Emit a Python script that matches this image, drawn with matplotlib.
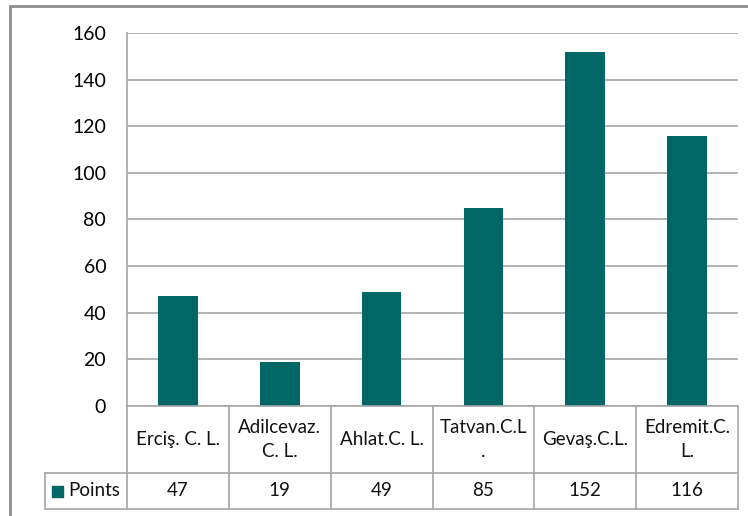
import numpy as np
import matplotlib
matplotlib.use("Agg")
import matplotlib.pyplot as plt
from matplotlib.patches import Rectangle

plt.rcParams['font.family'] = ['Lato', 'DejaVu Sans']

# Data
categories = ["Erciş. C. L.", "Adilcevaz.\nC. L.", "Ahlat.C. L.", "Tatvan.C.L\n.", "Gevaş.C.L.", "Edremit.C.\nL."]
points = [47, 19, 49, 85, 152, 116]
series_name = "Points"
yticks = np.arange(0, 161, 20)

bar_color = '#006666'
grid_color = '#a6a6a6'
W, H = 748, 516
fs_table = 13.5

fig = plt.figure(figsize=(W / 100, H / 100), dpi=100)

def fx(px):
    return px / W

def fy(py):
    return 1 - py / H

# chart frame (cut off on the right / bottom)
fig.add_artist(Rectangle((fx(10), fy(600)), fx(800), 600 / H - 6 / H,
                         transform=fig.transFigure, fill=False,
                         edgecolor='#8c8c8c', linewidth=2))

left, right, top, base = 127, 738, 33, 406
ax = fig.add_axes([fx(left), fy(base), fx(right - left), (base - top) / H])

x = np.arange(len(points))
ax.bar(x, points, width=0.39, color=bar_color, zorder=3)
ax.set_xlim(-0.5, len(points) - 0.5)
ax.set_ylim(0, 160)
ax.set_yticks(yticks)
ax.set_yticklabels([str(v) for v in yticks], fontsize=14)
ax.tick_params(axis='y', length=0, pad=15)
ax.set_xticks([])
ax.grid(axis='y', color=grid_color, linewidth=1.2, zorder=0)
for s in ['top', 'right', 'bottom']:
    ax.spines[s].set_visible(False)
ax.spines['left'].set_color(grid_color)
ax.spines['left'].set_linewidth(1.2)

# data table under the axis
row1, row2 = 473, 509
leg_left = 45
col_w = (right - left) / len(points)
lkw = dict(color=grid_color, linewidth=1.2, transform=fig.transFigure)
fig.add_artist(plt.Line2D([fx(left), fx(right)], [fy(base), fy(base)], **lkw))
fig.add_artist(plt.Line2D([fx(leg_left), fx(right)], [fy(row1), fy(row1)], **lkw))
fig.add_artist(plt.Line2D([fx(leg_left), fx(right)], [fy(row2), fy(row2)], **lkw))
fig.add_artist(plt.Line2D([fx(leg_left), fx(leg_left)], [fy(row1), fy(row2)], **lkw))
for i in range(len(points) + 1):
    xc = left + i * col_w
    fig.add_artist(plt.Line2D([fx(xc), fx(xc)], [fy(base), fy(row2)], **lkw))

for i, (cat, val) in enumerate(zip(categories, points)):
    xc = left + (i + 0.5) * col_w
    fig.text(fx(xc), fy((base + row1) / 2), cat, ha='center', va='center',
             fontsize=fs_table, linespacing=1.45, color='#111111')
    fig.text(fx(xc), fy((row1 + row2) / 2), str(val), ha='center', va='center',
             fontsize=fs_table, color='#111111')

# legend key in the table
fig.add_artist(Rectangle((fx(52), fy(497)), fx(11), 11 / H,
                         transform=fig.transFigure, color=bar_color))
fig.text(fx(68), fy((row1 + row2) / 2), series_name, ha='left', va='center',
         fontsize=fs_table, color='#111111')

fig.savefig("out.png", dpi=100, facecolor='white')
